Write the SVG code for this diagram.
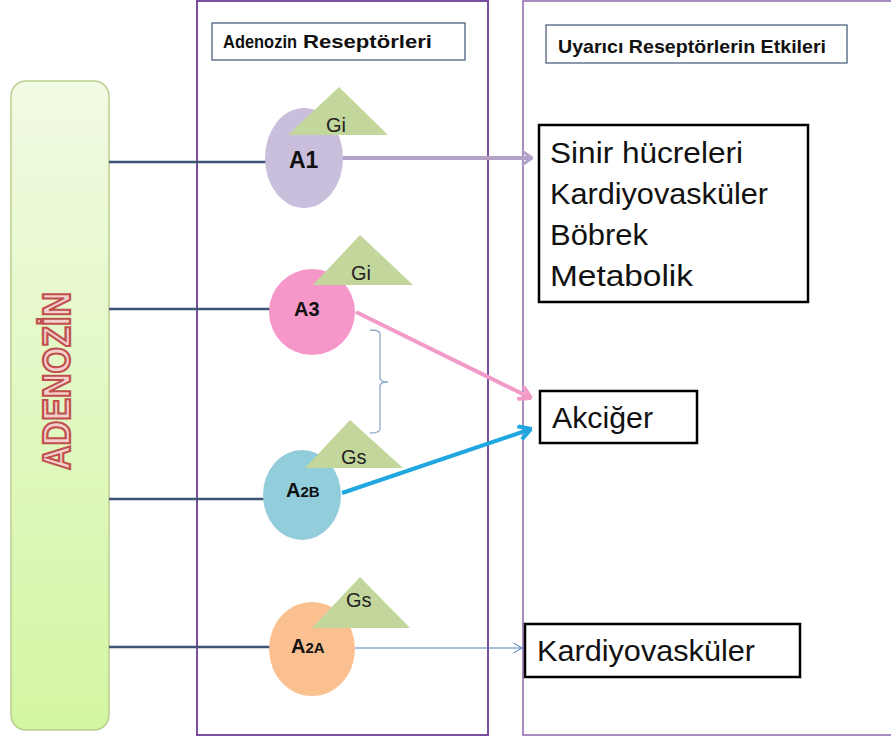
<svg xmlns="http://www.w3.org/2000/svg" width="891" height="740" viewBox="0 0 891 740">
<defs>
<linearGradient id="gAd" x1="0" y1="0" x2="0" y2="1">
<stop offset="0" stop-color="#f1fae3"/>
<stop offset="1" stop-color="#d3f6a2"/>
</linearGradient>
<marker id="mLav" viewBox="0 0 12 16" refX="11" refY="8" markerWidth="12" markerHeight="16" markerUnits="userSpaceOnUse" orient="auto">
<path d="M1,1 L11,8 L1,15" fill="none" stroke="#b3a2c7" stroke-width="3"/>
</marker>
<marker id="mPink" viewBox="0 0 14 16" refX="13" refY="8" markerWidth="14" markerHeight="16" markerUnits="userSpaceOnUse" orient="auto">
<path d="M1,1 L13,8 L1,15" fill="none" stroke="#f39bc8" stroke-width="4"/>
</marker>
<marker id="mBlue" viewBox="0 0 14 16" refX="13" refY="8" markerWidth="14" markerHeight="16" markerUnits="userSpaceOnUse" orient="auto">
<path d="M1,1 L13,8 L1,15" fill="none" stroke="#20a7e0" stroke-width="4"/>
</marker>
<marker id="mThin" viewBox="0 0 10 12" refX="9.5" refY="6" markerWidth="10" markerHeight="12" markerUnits="userSpaceOnUse" orient="auto">
<path d="M1,1 L9.5,6 L1,11" fill="none" stroke="#4f81bd" stroke-width="1"/>
</marker>
</defs>
<style>
.panel{fill:#fff;stroke:#7a4fa0}
.title{fill:#fff;stroke:#3f5475;stroke-width:1.2}
.ttxt{font-family:"Liberation Sans",Arial,sans-serif;font-weight:bold;font-size:19px;fill:#111}
.box{fill:#fff;stroke:#000;stroke-width:2.5}
.btxt{font-family:"Liberation Sans",Arial,sans-serif;font-size:29px;fill:#111}
.tri{fill:#c3d69b}
.gtxt{font-family:"Liberation Sans",Arial,sans-serif;font-size:20px;fill:#222}
.atxt{font-family:"Liberation Sans",Arial,sans-serif;font-weight:bold;fill:#111}
.lead{stroke:#3f5475;stroke-width:2.5;fill:none}
</style>
<rect width="891" height="740" fill="#fff"/>

<g id="panel-receptors">
<rect class="panel" x="197" y="1" width="291" height="734" stroke-width="2"/>
<rect class="title" x="212" y="23" width="253" height="37"/>
<text class="ttxt" y="48"><tspan x="223" textLength="74" lengthAdjust="spacingAndGlyphs">Adenozin</tspan><tspan x="303" textLength="129" lengthAdjust="spacingAndGlyphs">Reseptörleri</tspan></text>
</g>

<g id="panel-effects">
<rect class="panel" x="523" y="1" width="380" height="734" stroke-width="1.3"/>
<rect class="title" x="546" y="25" width="301" height="38"/>
<text class="ttxt" x="558" y="53" textLength="268" lengthAdjust="spacingAndGlyphs">Uyarıcı Reseptörlerin Etkileri</text>
</g>

<g id="adenozin">
<rect x="11" y="81" width="98" height="649" rx="15" fill="url(#gAd)" stroke="#b9cf90" stroke-width="1.5"/>
<text transform="translate(70,381) rotate(-90)" x="0" y="0" text-anchor="middle" font-family="Liberation Sans,Arial,sans-serif" font-weight="bold" font-size="38" fill="#f5cfcc" stroke="#c0504d" stroke-width="2.2" textLength="178" lengthAdjust="spacingAndGlyphs">ADENOZİN</text>
</g>

<g id="connectors">
<line class="lead" x1="109" y1="162" x2="272" y2="162"/>
<line class="lead" x1="109" y1="309" x2="270" y2="309"/>
<line class="lead" x1="109" y1="499" x2="272" y2="499"/>
<line class="lead" x1="109" y1="647" x2="273" y2="647"/>
<line x1="338" y1="158" x2="532" y2="158" stroke="#b3a2c7" stroke-width="4" marker-end="url(#mLav)"/>
<line x1="356" y1="312" x2="531" y2="398" stroke="#f39bc8" stroke-width="4" marker-end="url(#mPink)"/>
<line x1="342" y1="493" x2="531" y2="429" stroke="#20a7e0" stroke-width="4" marker-end="url(#mBlue)"/>
<line x1="355" y1="648" x2="522" y2="648" stroke="#4f81bd" stroke-width="1" marker-end="url(#mThin)"/>
<path d="M370,330 Q380,330 380,334 L380,378 Q380,382 388,382 Q380,382 380,386 L380,429 Q380,433 370,433" fill="none" stroke="#8ea9c8" stroke-width="1.3"/>
</g>

<g id="A1">
<ellipse cx="304" cy="158" rx="39" ry="50" fill="#c9bfdd"/>
<polygon class="tri" points="339,87 388,135 288,135"/>
<text class="gtxt" x="326" y="132">Gi</text>
<text class="atxt" x="289" y="168" font-size="23">A1</text>
</g>

<g id="A3">
<circle cx="312" cy="312" r="43" fill="#f597c8"/>
<polygon class="tri" points="360,235 413,285 313,285"/>
<text class="gtxt" x="351" y="280">Gi</text>
<text class="atxt" x="294" y="316" font-size="20">A3</text>
</g>

<g id="A2B">
<ellipse cx="302" cy="495" rx="39" ry="45" fill="#92cddc"/>
<polygon class="tri" points="350,420 403,468 305,468"/>
<text class="gtxt" x="341" y="464">Gs</text>
<text class="atxt" x="286" y="497"><tspan font-size="20">A</tspan><tspan font-size="15">2B</tspan></text>
</g>

<g id="A2A">
<ellipse cx="312" cy="649" rx="43" ry="47" fill="#fac090"/>
<polygon class="tri" points="360,577 410,628 312,628"/>
<text class="gtxt" x="346" y="607">Gs</text>
<text class="atxt" x="291" y="653"><tspan font-size="20">A</tspan><tspan font-size="15">2A</tspan></text>
</g>

<g id="effects-a1">
<rect class="box" x="539" y="125" width="269" height="177"/>
<text class="btxt" x="550" y="163" textLength="193" lengthAdjust="spacingAndGlyphs">Sinir hücreleri</text>
<text class="btxt" x="550" y="204" textLength="218" lengthAdjust="spacingAndGlyphs">Kardiyovasküler</text>
<text class="btxt" x="550" y="245" textLength="98" lengthAdjust="spacingAndGlyphs">Böbrek</text>
<text class="btxt" x="550" y="286" textLength="143" lengthAdjust="spacingAndGlyphs">Metabolik</text>
</g>

<g id="effects-lung">
<rect class="box" x="540" y="391" width="157" height="52"/>
<text class="btxt" x="552" y="428" textLength="101" lengthAdjust="spacingAndGlyphs">Akciğer</text>
</g>

<g id="effects-a2a">
<rect class="box" x="525" y="624" width="275" height="53"/>
<text class="btxt" x="537" y="661" textLength="218" lengthAdjust="spacingAndGlyphs">Kardiyovasküler</text>
</g>
</svg>
